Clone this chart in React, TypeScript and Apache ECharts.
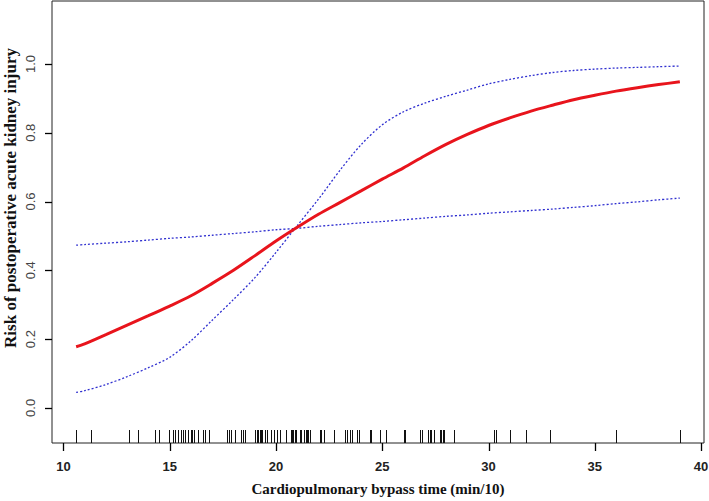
import React, { useEffect, useRef } from "react";
import * as echarts from "echarts";

const xTicks = [10, 15, 20, 25, 30, 35, 40];
const yTicks = [0, 0.2, 0.4, 0.6, 0.8, 1.0];

const fitX = [10.6, 11, 12, 13, 14, 15, 16, 17, 18, 19, 20, 21, 22, 23, 24, 25, 26, 27, 28, 29, 30, 31, 32, 33, 34, 35, 36, 37, 38, 39];
const fitY = [0.178, 0.186, 0.213, 0.241, 0.268, 0.296, 0.326, 0.362, 0.4, 0.442, 0.485, 0.525, 0.563, 0.597, 0.631, 0.665, 0.698, 0.733, 0.766, 0.795, 0.821, 0.843, 0.863, 0.88, 0.896, 0.909, 0.921, 0.931, 0.94, 0.948];

const ciAX = [10.6, 11, 12, 13, 14, 15, 16, 17, 18, 19, 20, 21, 22, 23, 24, 25, 26, 27, 28, 29, 30, 31, 32, 33, 34, 35, 36, 37, 38, 39];
const ciAY = [0.045, 0.05, 0.068, 0.091, 0.117, 0.147, 0.195, 0.255, 0.315, 0.378, 0.452, 0.53, 0.607, 0.69, 0.765, 0.823, 0.861, 0.886, 0.906, 0.924, 0.942, 0.955, 0.966, 0.975, 0.981, 0.985, 0.988, 0.99, 0.992, 0.994];

const ciBX = [10.6, 11, 12, 13, 14, 15, 16, 17, 18, 19, 20, 21, 22, 23, 24, 25, 26, 27, 28, 29, 30, 31, 32, 33, 34, 35, 36, 37, 38, 39];
const ciBY = [0.473, 0.475, 0.479, 0.483, 0.488, 0.493, 0.497, 0.502, 0.507, 0.512, 0.518, 0.522, 0.528, 0.533, 0.538, 0.542, 0.547, 0.552, 0.557, 0.561, 0.566, 0.57, 0.574, 0.578, 0.583, 0.588, 0.594, 0.599, 0.605, 0.61];

const rug = [
  10.61, 11.28, 13.08, 13.52, 14.3, 14.51, 14.96, 15.15, 15.27, 15.38, 15.51, 15.63, 15.7, 15.87,
  15.98, 16.06, 16.15, 16.31, 16.57, 16.68, 16.87, 17.71, 17.77, 17.9, 18.08, 18.37, 18.45, 18.56,
  19.03, 19.09, 19.15, 19.23, 19.3, 19.36, 19.5, 19.56, 19.78, 19.89, 20.07, 20.18, 20.46, 20.7,
  20.74, 20.8, 20.88, 20.96, 21.11, 21.18, 21.32, 21.4, 21.48, 21.52, 21.58, 22.05, 22.11, 22.25,
  22.73, 23.27, 23.33, 23.46, 23.58, 23.83, 23.9, 24.41, 24.49, 24.88, 25.18, 26.01, 26.08, 26.79,
  26.87, 27.16, 27.23, 27.29, 27.45, 27.71, 27.77, 27.84, 27.92, 28.38, 30.26, 30.36, 31.0, 31.74,
  32.88, 35.99, 39.01,
];

const xTitle = "Cardiopulmonary bypass time (min/10)";
const yTitle = "Risk of postoperative acute kidney injury";

const X_MIN = 9.464;
const X_MAX = 40.136;
const Y_MIN = -0.102;
const Y_MAX = 1.183;

const zip = (xs: number[], ys: number[]) => xs.map((x, i) => [x, ys[i]]);
const crisp = (v: number) => Math.round(v) + 0.5;

export default function App() {
  const ref = useRef<HTMLDivElement>(null);
  useEffect(() => {
    if (!ref.current) return;
    const chart = echarts.init(ref.current, undefined, { renderer: "svg" });
    const blue = "#3030d0";
    chart.setOption({
      animation: false,
      backgroundColor: "#ffffff",
      grid: {
        left: 52,
        right: 5,
        top: 1,
        bottom: 58,
        show: true,
        borderColor: "#222",
        borderWidth: 1,
        backgroundColor: "transparent",
        containLabel: false,
        outerBoundsMode: "none",
      },
      xAxis: {
        type: "value",
        position: "bottom",
        min: X_MIN,
        max: X_MAX,
        name: xTitle,
        nameLocation: "middle",
        nameGap: 38,
        nameTextStyle: {
          fontFamily: "Liberation Serif",
          fontWeight: "bold",
          fontSize: 15,
          color: "#111",
        },
        axisLine: { show: false, onZero: false },
        splitLine: { show: false },
        axisTick: { show: false },
        axisLabel: {
          customValues: xTicks,
          fontFamily: "Liberation Sans",
          fontWeight: "bold",
          fontSize: 13,
          color: "#222",
          margin: 17,
        },
      },
      yAxis: {
        type: "value",
        position: "left",
        min: Y_MIN,
        max: Y_MAX,
        axisLine: { show: false, onZero: false },
        splitLine: { show: false },
        axisTick: { show: false },
        axisLabel: {
          customValues: yTicks,
          rotate: 90,
          formatter: (v: number) => v.toFixed(1),
          fontFamily: "Liberation Sans",
          fontSize: 13,
          color: "#444",
          margin: 15,
        },
      },
      series: [
        {
          type: "line",
          data: zip(ciBX, ciBY),
          smooth: 0.3,
          showSymbol: false,
          lineStyle: { color: blue, width: 1.3, type: [2, 2] },
        },
        {
          type: "line",
          data: zip(ciAX, ciAY),
          smooth: 0.3,
          showSymbol: false,
          lineStyle: { color: blue, width: 1.3, type: [2, 2] },
        },
        {
          type: "line",
          data: zip(fitX, fitY),
          smooth: 0.3,
          showSymbol: false,
          lineStyle: { color: "#e8141c", width: 3 },
        },
        {
          type: "custom",
          clip: false,
          data: rug.map((x) => [x]),
          renderItem: (params: any, api: any) => {
            const p = api.coord([api.value(0), Y_MIN]);
            const px = crisp(p[0]);
            return {
              type: "line",
              shape: { x1: px, y1: p[1], x2: px, y2: p[1] - 13 },
              style: { stroke: "#111", lineWidth: 1 },
            };
          },
        },
      ],
    });

    // axis ticks placed through the chart's own coordinate conversion
    const tickEls: any[] = [];
    xTicks.forEach((x) => {
      const p = chart.convertToPixel({ gridIndex: 0 }, [x, Y_MIN]) as number[];
      const px = crisp(p[0]);
      tickEls.push({
        type: "line",
        silent: true,
        z: 100,
        shape: { x1: px, y1: p[1], x2: px, y2: p[1] + 8 },
        style: { stroke: "#000", lineWidth: 1.3 },
      });
    });
    yTicks.forEach((y) => {
      const p = chart.convertToPixel({ gridIndex: 0 }, [X_MIN, y]) as number[];
      const py = crisp(p[1]);
      tickEls.push({
        type: "line",
        silent: true,
        z: 100,
        shape: { x1: p[0], y1: py, x2: p[0] - 7, y2: py },
        style: { stroke: "#000", lineWidth: 1.3 },
      });
    });
    chart.setOption({
      graphic: {
        elements: [
          ...tickEls,
          {
            type: "text",
            x: 10,
            y: 198,
            rotation: Math.PI / 2,
            style: {
              text: yTitle,
              fontFamily: "Liberation Serif",
              fontWeight: "bold",
              fontSize: 17,
              fill: "#111",
              textAlign: "center",
              textVerticalAlign: "middle",
              verticalAlign: "middle",
            },
          },
        ],
      },
    });
    return () => chart.dispose();
  }, []);
  return (
    <div
      ref={ref}
      style={{ position: "fixed", left: 0, top: 0, width: 709, height: 501, background: "#fff" }}
    />
  );
}
